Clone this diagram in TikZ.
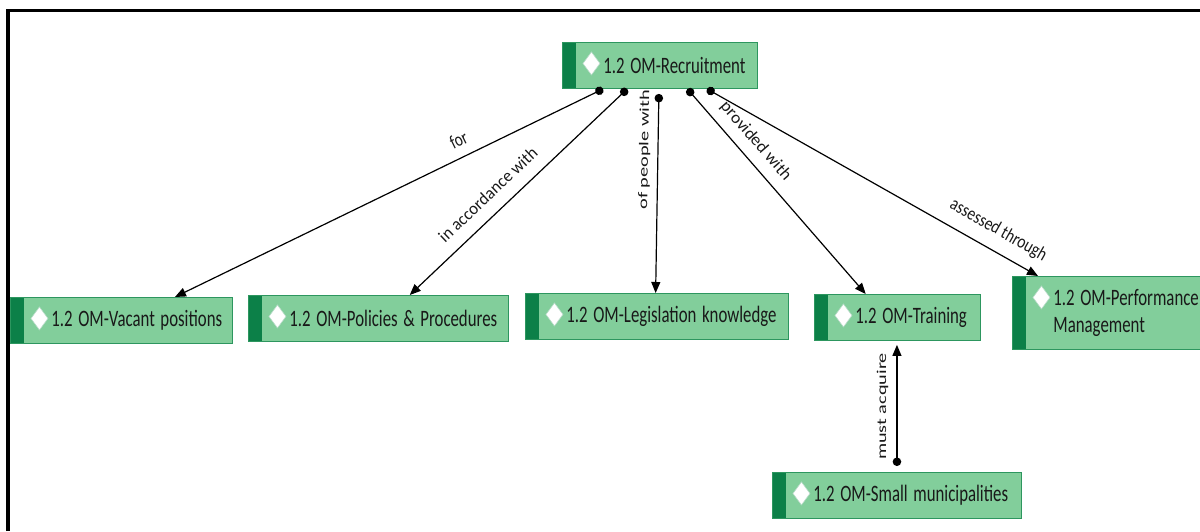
\documentclass[tikz,border=0pt]{standalone}
\usepackage{fontspec}
\setmainfont{Carlito}
\usetikzlibrary{arrows.meta,calc}

\definecolor{omfill}{RGB}{130,206,155}
\definecolor{omline}{RGB}{45,150,95}
\definecolor{omdark}{RGB}{12,128,72}
\definecolor{omtext}{RGB}{25,25,25}

% box captions are set a little taller than wide
\newcommand\tallt[1]{\scalebox{1}[1.4]{#1}}

\tikzset{
	om/.style={draw=omline, line width=0.9pt, fill=omfill, anchor=north west,
		text width=#1, inner xsep=0pt, inner ysep=3pt, minimum height=46pt,
		align=left, text=omtext, font=\fontsize{16.8}{19}\selectfont,
		execute at begin node={\leftskip=41pt},
		path picture={
			\fill[omdark] (path picture bounding box.north west) rectangle ([xshift=14pt]path picture bounding box.south west);
			\draw[omline!35, fill=white, line width=0.6pt] ([xshift=29pt,yshift=-21pt]path picture bounding box.north west)
				+(-8.5pt,0) -- +(0,11.5pt) -- +(8.5pt,0) -- +(0,-11.5pt) -- cycle;
		}},
	link/.style={{Circle[length=8.5pt]}-{Triangle[length=11pt,width=9pt]}, line width=1.2pt},
	lbl/.style={sloped, font=\fontsize{13.5}{15}\selectfont, text=omtext, inner sep=2pt}
}

\begin{document}
\begin{tikzpicture} [x=1pt, y=-1pt]
	\useasboundingbox (0,0) rectangle (1200,531);
	\draw [line width=3.5pt] (8,531) -- (8,10.5) -- (1200,10.5);

	% concept boxes
	\node[om=195pt] (rec) at (562,42) {\tallt{1.2 OM-Recruitment}};
	\node[om=222pt] (vac) at (10,297) {\tallt{1.2 OM-Vacant positions}};
	\node[om=260pt] (pol) at (248,295) {\tallt{1.2 OM-Policies \& Procedures}};
	\node[om=263pt] (leg) at (525,293) {\tallt{1.2 OM-Legislation knowledge}};
	\node[om=166pt] (train) at (814,294) {\tallt{1.2 OM-Training}};
	\node[om=220pt, minimum height=73pt, font=\fontsize{16.8}{27}\selectfont] (perf) at (1012,276) {\tallt{1.2 OM-Performance}\\\tallt{Management}};
	\node[om=249pt] (small) at (772,472) {\tallt{1.2 OM-Small municipalities}};

	% links
	\draw [link] ($(rec.south west)!.21!(rec.south east)$) -- ($(vac.north west)!.74!(vac.north east)$)
		node[lbl, pos=.32, above=8pt] {\scalebox{1.11}[1.42]{for}};
	\draw [link] ($(rec.south west)!.333!(rec.south east)$) -- ($(pol.north west)!.62!(pol.north east)$)
		node[lbl, pos=.58, above=10.5pt] {\scalebox{1.25}[1.29]{in accordance with}};
	\draw [link, shorten <=5pt] ($(rec.south west)!.495!(rec.south east)$) -- ($(leg.north west)!.495!(leg.north east)$)
		node[lbl, pos=.3, above=5pt] {\scalebox{1.5}[1]{of people with}};
	\draw [link] ($(rec.south west)!.64!(rec.south east)$) -- ($(train.north west)!.31!(train.north east)$)
		node[lbl, pos=.31, above=7.5pt] {\scalebox{1.3}[1.25]{provided with}};
	\draw [link] ($(rec.south west)!.74!(rec.south east)$) -- ([xshift=26pt]perf.north west)
		node[lbl, pos=.85, above=9.5pt] {\scalebox{1.14}[1.4]{assessed through}};
	\draw [link, shorten <=6pt, shorten >=4pt] (small.north) -- (train.south -| small.north)
		node[lbl, pos=.5, above=6pt] {\scalebox{1.5}[1]{must acquire}};
\end{tikzpicture}
\end{document}
